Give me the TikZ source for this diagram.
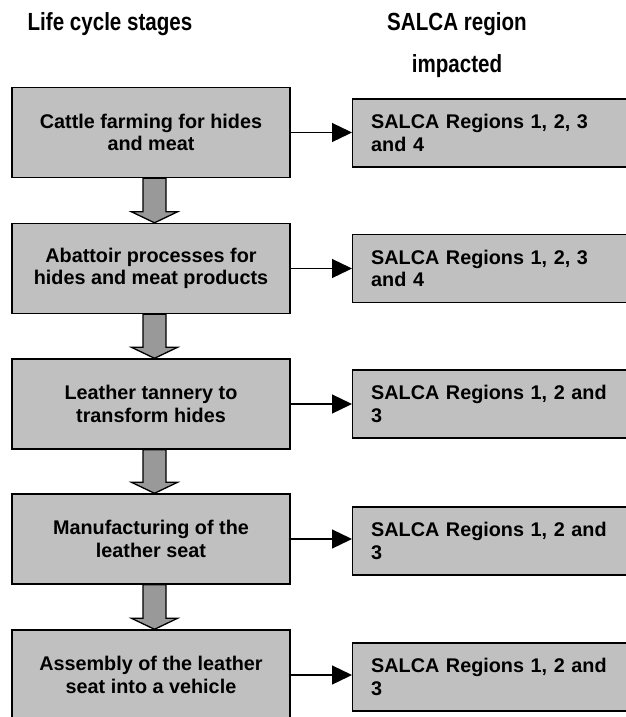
\documentclass[tikz,border=0pt]{standalone}
\usepackage{fontspec}
\setmainfont{Liberation Sans}
\usetikzlibrary{arrows.meta,calc}
\definecolor{boxgray}{HTML}{C0C0C0}
\definecolor{arrgray}{HTML}{999999}
\newcommand{\narrowtitle}[1]{\scalebox{0.83}[1]{#1}}
\begin{document}
\begin{tikzpicture}[x=1pt,y=-1pt,
  title/.style={font=\fontsize{24.8}{42}\selectfont\bfseries, align=center, anchor=base, inner sep=0pt},
  stage/.style={draw=black, line width=1.4pt, fill=boxgray, minimum width=278pt, minimum height=90pt,
    align=center, inner sep=0pt, font=\fontsize{19.8}{22.7}\selectfont\bfseries},
  region/.style={draw=black, line width=1.4pt, fill=boxgray, anchor=west, minimum height=68pt,
    text width=252pt, inner xsep=18.5pt, inner ysep=0pt, align=left, font=\fontsize{19.8}{22.7}\selectfont\bfseries},
  link/.style={line width=1.3pt, -{Triangle[length=20pt,width=19pt]}},
  blockarr/.style={draw=black, line width=1.3pt, fill=arrgray, line join=miter}]
\useasboundingbox (0,0) rectangle (626,717);
\clip (0,0) rectangle (626,717);
\node[title] (t1) at (110,31) {\narrowtitle{Life cycle stages}};
\node[title] (t2) at (457,31) {\narrowtitle{SALCA region}};
\node[title] (t3) at (457,73) {\narrowtitle{impacted}};

\node[stage] (L1) at (151,132.5) {Cattle farming for hides\\and meat};
\node[stage] (L2) at (151,268.5) {Abattoir processes for\\hides and meat products};
\node[stage] (L3) at (151,404) {Leather tannery to\\transform hides};
\node[stage] (L4) at (151,539) {Manufacturing of the\\leather seat};
\node[stage] (L5) at (151,675) {Assembly of the leather\\seat into a vehicle};

\node[region] (R1) at (352,133) {\makebox[251pt][s]{SALCA Regions 1, 2, 3}\\and 4};
\node[region] (R2) at (352,268.5) {\makebox[251pt][s]{SALCA Regions 1, 2, 3}\\and 4};
\node[region] (R3) at (352,404) {\makebox[251pt][s]{SALCA Regions 1, 2 and}\\3};
\node[region] (R4) at (352,541) {\makebox[251pt][s]{SALCA Regions 1, 2 and}\\3};
\node[region] (R5) at (352,677) {\makebox[251pt][s]{SALCA Regions 1, 2 and}\\3};

\foreach \i in {1,...,5}{
  \draw[link] (L\i.east) -- (L\i.east -| R\i.west);
}
\foreach \i/\j in {1/2,2/3,3/4,4/5}{
  \draw[blockarr] ($(L\i.south)+(-8,0)$) -- ($(L\i.south)+(15,0)$)
    -- ($(L\j.north)+(15,-11)$) -- ($(L\j.north)+(26.5,-11)$)
    -- ($(L\j.north)+(3.5,0)$) -- ($(L\j.north)+(-19.5,-11)$)
    -- ($(L\j.north)+(-8,-11)$) -- cycle;
}
\end{tikzpicture}
\end{document}
